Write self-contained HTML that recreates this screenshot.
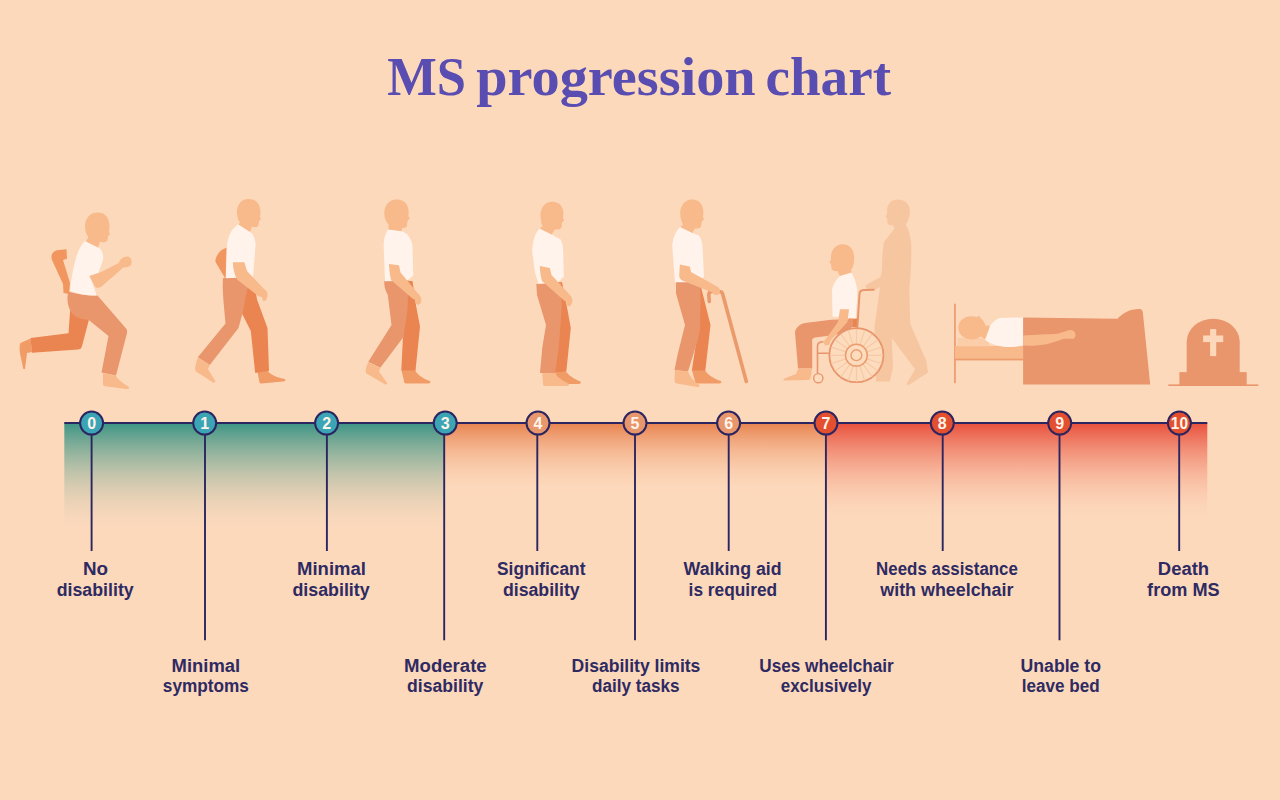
<!DOCTYPE html>
<html><head><meta charset="utf-8">
<style>
html,body{margin:0;padding:0;}
body{width:1280px;height:800px;background:#FDD9BC;overflow:hidden;position:relative;font-family:"Liberation Sans",sans-serif;}
svg{position:absolute;left:0;top:0;}
</style></head><body>
<svg id="main" width="1280" height="800" viewBox="0 0 1280 800">
<defs>
<linearGradient id="gG" x1="0" y1="0" x2="0" y2="1"><stop offset="0" stop-color="#3C9585"/><stop offset="1" stop-color="#FDD9BC" stop-opacity="0"/></linearGradient>
<linearGradient id="gO" x1="0" y1="0" x2="0" y2="1"><stop offset="0" stop-color="#E88350"/><stop offset="1" stop-color="#FDD9BC" stop-opacity="0"/></linearGradient>
<linearGradient id="gR" x1="0" y1="0" x2="0" y2="1"><stop offset="0" stop-color="#E8503C"/><stop offset="1" stop-color="#FDD9BC" stop-opacity="0"/></linearGradient>
</defs>
<g id="title" font-family="Liberation Serif, serif" font-weight="bold" font-size="54.5" fill="#594DB1">
<text x="387.2" y="95.4" textLength="78.8" lengthAdjust="spacingAndGlyphs">MS</text>
<text x="476.2" y="95.4" textLength="279.5" lengthAdjust="spacingAndGlyphs">progression</text>
<text x="765.5" y="95.4" textLength="125.5" lengthAdjust="spacingAndGlyphs">chart</text>
</g>
<!-- TIMELINE -->
<g id="timeline">
<rect x="64.3" y="423" width="380" height="114" fill="url(#gG)"/>
<rect x="444.3" y="423" width="381.7" height="74" fill="url(#gO)"/>
<rect x="826" y="423" width="381.3" height="102" fill="url(#gR)"/>
<rect x="64.3" y="422" width="1143" height="2" fill="#2B2560"/>
<g stroke="#2B2560" stroke-width="1.9">
<line x1="91.6" y1="423" x2="91.6" y2="551"/>
<line x1="205.0" y1="423" x2="205.0" y2="640.3"/>
<line x1="326.9" y1="423" x2="326.9" y2="551"/>
<line x1="444.2" y1="423" x2="444.2" y2="640.3"/>
<line x1="537.3" y1="423" x2="537.3" y2="551"/>
<line x1="635.0" y1="423" x2="635.0" y2="640.3"/>
<line x1="728.7" y1="423" x2="728.7" y2="551"/>
<line x1="825.9" y1="423" x2="825.9" y2="640.3"/>
<line x1="942.7" y1="423" x2="942.7" y2="551"/>
<line x1="1059.5" y1="423" x2="1059.5" y2="640.3"/>
<line x1="1179.2" y1="423" x2="1179.2" y2="551"/>
</g>
<g stroke="#2B2560" stroke-width="2">
<circle cx="91.6" cy="423.1" r="11.5" fill="#3BA5B5"/>
<circle cx="204.7" cy="423.1" r="11.5" fill="#3BA5B5"/>
<circle cx="326.6" cy="423.1" r="11.5" fill="#3BA5B5"/>
<circle cx="445.2" cy="423.1" r="11.5" fill="#3BA5B5"/>
<circle cx="538.0" cy="423.1" r="11.5" fill="#E8966C"/>
<circle cx="635.0" cy="423.1" r="11.5" fill="#E8966C"/>
<circle cx="728.6" cy="423.1" r="11.5" fill="#E8966C"/>
<circle cx="826.0" cy="423.1" r="11.5" fill="#E4502F"/>
<circle cx="942.3" cy="423.1" r="11.5" fill="#E4502F"/>
<circle cx="1059.7" cy="423.1" r="11.5" fill="#E4502F"/>
<circle cx="1179.4" cy="423.1" r="11.5" fill="#E4502F"/>
</g>
<g font-family="Liberation Sans, sans-serif" font-weight="bold" font-size="16" fill="#FFF4EA" text-anchor="middle">
<text x="91.6" y="428.9">0</text>
<text x="204.7" y="428.9">1</text>
<text x="326.6" y="428.9">2</text>
<text x="445.2" y="428.9">3</text>
<text x="538.0" y="428.9">4</text>
<text x="635.0" y="428.9">5</text>
<text x="728.6" y="428.9">6</text>
<text x="826.0" y="428.9">7</text>
<text x="942.3" y="428.9">8</text>
<text x="1059.7" y="428.9">9</text>
<text x="1170.8000000000002" y="428.9" text-anchor="start" textLength="17.2" lengthAdjust="spacingAndGlyphs">10</text>
</g>
</g>
<g id="labels" font-family="Liberation Sans, sans-serif" font-weight="bold" font-size="17.5" fill="#2E2A62">
<text x="83.00" y="575.3" textLength="25.10" lengthAdjust="spacingAndGlyphs">No</text>
<text x="56.70" y="595.6" textLength="77.00" lengthAdjust="spacingAndGlyphs">disability</text>
<text x="297.10" y="575.3" textLength="68.80" lengthAdjust="spacingAndGlyphs">Minimal</text>
<text x="292.40" y="595.6" textLength="77.30" lengthAdjust="spacingAndGlyphs">disability</text>
<text x="497.10" y="575.3" textLength="88.30" lengthAdjust="spacingAndGlyphs">Significant</text>
<text x="502.90" y="595.6" textLength="76.80" lengthAdjust="spacingAndGlyphs">disability</text>
<text x="683.60" y="575.3" textLength="98.05" lengthAdjust="spacingAndGlyphs">Walking aid</text>
<text x="688.60" y="595.6" textLength="88.55" lengthAdjust="spacingAndGlyphs">is required</text>
<text x="876.10" y="575.3" textLength="141.80" lengthAdjust="spacingAndGlyphs">Needs assistance</text>
<text x="880.30" y="595.6" textLength="133.10" lengthAdjust="spacingAndGlyphs">with wheelchair</text>
<text x="1157.85" y="575.3" textLength="51.30" lengthAdjust="spacingAndGlyphs">Death</text>
<text x="1147.10" y="595.6" textLength="72.55" lengthAdjust="spacingAndGlyphs">from MS</text>
<text x="171.60" y="672.0" textLength="68.55" lengthAdjust="spacingAndGlyphs">Minimal</text>
<text x="162.85" y="692.4" textLength="86.05" lengthAdjust="spacingAndGlyphs">symptoms</text>
<text x="404.10" y="672.0" textLength="82.55" lengthAdjust="spacingAndGlyphs">Moderate</text>
<text x="407.10" y="692.4" textLength="76.30" lengthAdjust="spacingAndGlyphs">disability</text>
<text x="571.60" y="672.0" textLength="128.80" lengthAdjust="spacingAndGlyphs">Disability limits</text>
<text x="592.10" y="692.4" textLength="87.55" lengthAdjust="spacingAndGlyphs">daily tasks</text>
<text x="759.30" y="672.0" textLength="134.50" lengthAdjust="spacingAndGlyphs">Uses wheelchair</text>
<text x="780.70" y="692.4" textLength="90.80" lengthAdjust="spacingAndGlyphs">exclusively</text>
<text x="1020.60" y="672.0" textLength="80.40" lengthAdjust="spacingAndGlyphs">Unable to</text>
<text x="1021.80" y="692.4" textLength="77.80" lengthAdjust="spacingAndGlyphs">leave bed</text>
</g>
<!-- FIGURES -->
<g id="figures">
<!-- ===== FIG 0: runner ===== -->
<g id="f0">
<path fill="#F0965E" d="M66.5 249.3 L57 250.3 C52 251.5 50.5 256 52 260 L63 284 L63.5 293 L69 294 L70 283 L63 260 L67 258.8 Z"/>
<path fill="#F19C66" d="M30.6 338.5 L20.5 343 C19 346 19.5 352 21 358 L23.3 369 L25 369 L27 353 L32 352 Z"/>
<path fill="#EA8450" d="M70.5 305 L80 305 L89 319.5 L82 346 C81.5 348.5 80 349.5 78 349.6 L32 352.8 L30.5 338 L68.5 333.3 Z"/>
<path fill="#E9966D" d="M68.5 291.5 C78 294.5 90 296 97.5 295.5 L126.5 329 C127.3 331 127.3 333 126.5 335 L116 375.5 L101.5 372.5 L108.5 336 L88.5 319.7 C80 320 72 316 69.5 309 C67 302 67 297 68.5 291.5 Z"/>
<path fill="#F8B98B" d="M103 373 L115.7 375.5 C118 380 124 384 129 387 C129.5 388.5 128 389.2 126 389 L105 386.2 C103 385.7 102.5 384 103 383 Z"/>
<path fill="#F8B98B" d="M97.5 212.5 C90 212.5 85 218.5 85 226 C85 231 86.5 235 88.5 237.5 L85.5 241.5 L97.5 248.5 L100 241.8 C103 242.8 106.5 242.3 107.5 240.3 L108 236 L110 234.5 L109 231.5 C110.5 226 110 212.5 97.5 212.5 Z"/>
<path fill="#FFF3EB" d="M85 241 L100 248.5 C103 252 103.6 256 103 260 L98 274 L90 276.5 L93 284 L96.5 295.5 C88 296 78 294 70 291 C71 280 73 268 76 258 C78 251 81 245 85 241 Z"/>
<path fill="#F8B98B" d="M89.3 276 L101.2 272 L118.7 263 C120 259 124 256 128 256.5 C131.5 257.5 132.5 262 131 265 C129.5 267 126 267.6 123 267.6 L121.4 269.2 L101.2 286.7 C99 288.3 96 288.3 94.5 286 Z"/>
</g>
<!-- ===== FIG 1 ===== -->
<g id="f1">
<path fill="#F0965E" d="M227 247.5 L221.5 250 C217 254 215 259 215.5 262 L225 278 L227 278 Z"/>
<path fill="#F19C66" d="M257.5 372.3 L267.5 370.6 C270 375 278 378 285 379 C286 380.5 285 381.5 283 381.6 L261.5 383.6 C260 383.6 259.3 382.6 259.2 381 Z"/>
<path fill="#EA8450" d="M244 281 L254 281 L257 299.5 L267.5 328 L269 370.8 L255.2 373 L250.8 331 L241.5 312.5 Z"/>
<path fill="#E9966D" d="M223 278 L253 276.8 L251 286.5 L247.3 289 L242.8 312.3 L238.5 328 L209.8 365 L197.8 357.3 L225.5 323.5 C224 305 222 290 223 278 Z"/>
<path fill="#F8B98B" d="M197.8 357.5 L209.8 365 L208 369 L215.5 381.5 L213.5 382.7 L196 371.5 C194.5 369.5 195 366 197.8 357.5 Z"/>
<path fill="#F8B98B" d="M248.5 198.9 C241 198.9 237 205 237 212 C237 217 238.5 220.5 240 222.5 L238 225 L250 232 L252 226.7 C255 227.7 258 227.2 258.5 225.2 L259 221 L261 219.5 L260 217 C261.5 210 260 198.9 248.5 198.9 Z"/>
<path fill="#FFF3EB" d="M238 224.3 L249.5 231.8 L252 233.5 C254.5 237 255.5 241 255.5 245 L253 277 L225.7 278.3 L226.5 250 C227 241 229 234 233 229 Z"/>
<path fill="#F8B98B" d="M232.8 262.3 L244.3 262.3 L247 271 L263.5 288.5 C266.5 290 268 293 267.5 296 L266 300.5 L263 301 L262 297 L259 296.5 L237 279.5 C234.5 275 233 268 232.8 262.3 Z"/>
</g>
<!-- ===== FIG 2 ===== -->
<g id="f2">
<path fill="#F19C66" d="M401.5 370.5 L415.3 370.5 C417.5 375 424 379 430 381 C431 382.5 430 383.5 428 383.5 L406 383.5 C404.5 383.5 404 382.5 404 381 Z"/>
<path fill="#EA8450" d="M403 281 L412.5 281 L416.3 307 L420 326.5 L415.5 370.8 L401.3 370.8 L402.8 340 L406 305 Z"/>
<path fill="#E9966D" d="M384.3 281 L409 280.5 L409.5 290 L408 296 L407.5 310 L403.5 337 L380.3 367.8 L368.3 361.8 L391.5 325 L387.8 295 C385 290 384 285 384.3 281 Z"/>
<path fill="#F8B98B" d="M368.3 362 L380.3 368 L379 371.5 L387.5 383.5 L385.5 384.8 L366.5 373.5 C365 371.5 365.5 368 368.3 362 Z"/>
<path fill="#F8B98B" d="M396.5 199.6 C389 199.6 384.3 206 384.3 213 C384.3 218 386 222 388.5 224.5 L388.5 230 L401.5 231.8 L402 227.7 C404 228.2 406.5 227.7 407 225.7 L407.5 221 L409.8 218.5 L408.4 216 C409.5 209 407.5 199.6 396.5 199.6 Z"/>
<path fill="#FFF3EB" d="M388 229.5 L402 231.3 L407 234 C410.5 238 412.5 243 412.5 247 L413.2 275.5 L407 280.8 L385 281.3 L383.6 245 C384 238 385.5 233 388 229.5 Z"/>
<path fill="#F8B98B" d="M389 264 L399 265.3 L400.5 272.5 L418 293.5 C421 296 422 299.5 421 302.5 L418.5 305 L415.5 303.5 L415 300 L411.8 298 L391 280 C389.8 275 389.2 269 389 264 Z"/>
</g>
<!-- ===== FIG 3 ===== -->
<g id="f3">
<path fill="#F19C66" d="M555 372.5 L566 371.5 C568 375 575 379.5 580.5 381.5 C581.5 383 580.5 384 578.5 384 L560 384 Z"/>
<path fill="#EA8450" d="M553 283 L562 282 L567.8 311.5 L570.8 328 L566.3 371.5 L552 373 L555 347.5 L558 307 Z"/>
<path fill="#E9966D" d="M536.3 284 L561 282.3 L561.8 307 L558.8 347.5 L555 373 L540 373 L542.3 347.5 L546 325 L537 295 Z"/>
<path fill="#F8B98B" d="M542.3 373 L555 373 C557 377 563 381 568.5 383.5 C569.5 385 568.5 386 566.5 386 L545 386 C543.5 386 543 385 543 383.5 Z"/>
<path fill="#F8B98B" d="M552 201.7 C545 201.7 540.5 208 540.5 215 C540.5 220 541.5 224 542.5 226 L539.5 229 L551.5 234.8 L555 229.2 C558 229.7 561 229.2 561.5 227.2 L562 222.5 L564.2 220.5 L563 218 C564.5 211 562.5 201.7 552 201.7 Z"/>
<path fill="#FFF3EB" d="M539.5 228.5 L551.5 234.5 L560.5 239.5 C562.5 243 563.2 248 563.2 252 L563.9 276.7 L557 282.7 L538.5 283.8 L535 272.5 L532.3 252 C532.3 242 535 233 539.5 228.5 Z"/>
<path fill="#F8B98B" d="M539.8 266 L549.8 268 L551.5 275 L569 294 C572 296.5 573 300 572 303 L570 306.5 L567 305.5 L566.5 302 L563.5 300 L542 281 C540.5 276 540 271 539.8 266 Z"/>
</g>
<!-- ===== FIG 4: cane ===== -->
<g id="f4">
<path fill="none" stroke="#EB9A6B" stroke-width="3.6" stroke-linecap="round" stroke-linejoin="round" d="M709.3 301.5 L708.8 295 C708.8 292.5 710 291.5 712 291.5 L719 291.5 C721 291.5 722 292 722.5 293.5 L746.3 381.5"/>
<path fill="#F19C66" d="M692 370.5 L705.3 370.5 C707.5 375 715 379 721 381 C722 382.5 721 383.5 719 383.5 L697 383.5 C695.5 383.5 695 382.5 695 381 Z"/>
<path fill="#EA8450" d="M694 283 L700 283 L706.8 310 L710.5 325 L705.3 370.8 L691.8 370.8 L696.5 340 L696 329.5 Z"/>
<path fill="#E9966D" d="M676 282 L700 281.5 L700.5 300 L700 329.5 L697.8 340 L688 371.5 L674.5 370 L677.5 355 L685 325 L676 293.5 Z"/>
<path fill="#F8B98B" d="M675 370 L688 371.5 C690 377 695 382 699.5 385 C700 386.5 699 387.2 697 387 L677 383.5 C675 383 674.5 382 674.5 380 Z"/>
<path fill="#F8B98B" d="M692 199.6 C685 199.6 680.2 206 680.2 213 C680.2 218 681.5 222 683 224.5 L680 227.5 L692.3 233.2 L695 228.2 C698 228.7 700.5 228.2 701 226.2 L701.8 221.5 L704 219.5 L703 217 C704.5 210 702.5 199.6 692 199.6 Z"/>
<path fill="#FFF3EB" d="M680 227 L692.3 233 L699.1 235.5 C701.5 239 702.6 244 702.6 248 L704 276.7 L697 282.2 L675 282.2 L672.3 247 C672.5 239 675 232 680 227 Z"/>
<path fill="#F8B98B" d="M679.9 264.5 L689.8 266.5 L691 272 L716 286 C719 287 720.5 289.5 720 292 L718 295 L714.5 295 L712.5 292.5 L686 282 C682 281 679.5 279 679.2 276 Z"/>
</g>
<!-- ===== FIG 5: wheelchair + helper ===== -->
<g id="f5">
<path fill="#F6C6A1" d="M897.5 199.6 C890.5 199.6 887 205 887 211 L886.8 214 L885.5 216.5 L887 218.5 L887.5 223 C888 225 890.5 225.7 893 225.2 L894.5 228.5 L884 242 C882.5 250 882 262 881.7 272.5 L880.5 277 L870 282.5 L865.5 285.5 L866 288.5 L874.5 290.3 L880 287 L876.8 310.7 L874.4 327 L876 381.4 L889.8 381.4 L893 367.6 L891.8 338 L915 369.2 L906.5 384 L908.5 385.2 L928 372.4 L926.4 361 L910.2 323.7 L909.3 289 C911 275 911.5 258 911.3 245 C911 238 909 230 905.8 224.4 C909 220 910 215 909.9 211 C909.9 204 905 199.6 897.5 199.6 Z"/>
<!-- seated leg/seat -->
<path fill="#EA8450" d="M849 318.5 L857 318.5 L857 327 L849 327 Z"/>
<path fill="#E9966D" d="M853 319 L831 319.7 L805 323 C799.5 324 795.5 328 795 332.5 L798 368.5 L812.2 368.5 L812.2 340 C812.2 338.5 813 338 815 337.5 L831 335.5 L845 333 L853 326 Z"/>
<path fill="#F8B98B" d="M798.5 368.5 L812 368.5 L811 376 C810.5 379 809.5 380 808 380 L785 380.6 C783 380.6 783 379 784.5 378.5 L796 374 Z"/>
<!-- wheel -->
<g id="wheel">
<circle cx="856.4" cy="355.2" r="27" fill="#FDDCBE" stroke="#E8956B" stroke-width="1.8"/>
<g stroke="#F6CAA6" stroke-width="1.3" id="spokes"><line x1="856.5" y1="365.7" x2="856.5" y2="381.9"/><line x1="853.3" y1="365.2" x2="848.3" y2="380.6"/><line x1="850.4" y1="363.7" x2="840.9" y2="376.8"/><line x1="848.2" y1="361.5" x2="835.1" y2="371.0"/><line x1="846.7" y1="358.6" x2="831.3" y2="363.6"/><line x1="846.2" y1="355.4" x2="830.0" y2="355.4"/><line x1="846.7" y1="352.2" x2="831.3" y2="347.2"/><line x1="848.2" y1="349.3" x2="835.1" y2="339.8"/><line x1="850.4" y1="347.1" x2="840.9" y2="334.0"/><line x1="853.3" y1="345.6" x2="848.3" y2="330.2"/><line x1="856.5" y1="345.1" x2="856.5" y2="328.9"/><line x1="859.7" y1="345.6" x2="864.7" y2="330.2"/><line x1="862.6" y1="347.1" x2="872.1" y2="334.0"/><line x1="864.8" y1="349.3" x2="877.9" y2="339.8"/><line x1="866.3" y1="352.2" x2="881.7" y2="347.2"/><line x1="866.8" y1="355.4" x2="883.0" y2="355.4"/><line x1="866.3" y1="358.6" x2="881.7" y2="363.6"/><line x1="864.8" y1="361.5" x2="877.9" y2="371.0"/><line x1="862.6" y1="363.7" x2="872.1" y2="376.8"/><line x1="859.7" y1="365.2" x2="864.7" y2="380.6"/></g>
<circle cx="856.4" cy="355.2" r="10.9" fill="#FDDCBE" stroke="#EA9D6F" stroke-width="1.5"/>
<circle cx="856.4" cy="355.2" r="5.4" fill="#FDDCBE" stroke="#EA9D6F" stroke-width="1.4"/>
</g>
<circle cx="818.3" cy="378.2" r="4.6" fill="#FDDCBE" stroke="#E8956B" stroke-width="1.4"/>
<path fill="none" stroke="#E8956B" stroke-width="1.6" d="M823.5 341.7 C820 341.7 817.5 343 817.5 346 L817.5 373.5 M817.5 353.2 L829 353.2"/>
<path fill="none" stroke="#E8956B" stroke-width="2" stroke-linecap="round" d="M873.7 289.8 L864 289.9 C861 290 859.6 291.5 859.5 294 L857.3 328"/>
<!-- seated torso -->
<path fill="#F8B98B" d="M842.5 244.3 C835.5 244.3 831 250 831 257 L831 259.5 L829.5 262 L831 264 L831.5 268.5 C832 270.5 834.5 271.5 837.5 271 L840 276.3 L852 272.8 L851 270 C853 267.5 854.2 263 854.2 258 C854.2 250 850 244.3 842.5 244.3 Z"/>
<path fill="#FFF3EB" d="M851.5 272.5 L840 276 C836 280 833 284 832 290 L832.5 316.5 L855.7 318.5 L857 300 C858 292 857 282 851.5 272.5 Z"/>
<path fill="#F8B98B" d="M840 309.2 L849 309.2 L847.5 322 L831 340 L829 345 L825 345.5 L823.5 342 L826.5 338 L838 322 Z"/>
</g>
<!-- ===== FIG 6: bed ===== -->
<g id="f6">
<rect x="954.1" y="303.7" width="1.7" height="79.5" fill="#EB9B6C"/>
<rect x="955" y="346" width="68.5" height="14" fill="#F8B98B"/>
<rect x="955" y="358.7" width="68.5" height="1.7" fill="#EB9B6C"/>
<path fill="#FBCDA8" d="M957.5 338 L986 338 L990 346.3 L957.5 346.3 Z"/>
<path fill="#F8B98B" d="M958.3 327.8 C958.3 321 964 316.2 971.5 316.2 C973.5 316.2 975 316.5 976.5 317 L979.5 315.8 L980.8 318.5 C983.5 320.5 985 323 985.3 325.5 L991 326 L986.5 339.5 L980.5 336.5 C978 338.5 975 339.4 971.9 339.4 C964 339.4 958.3 334.5 958.3 327.8 Z"/>
<path fill="#FFF3EB" d="M990 326 C993 322 996 319 1000 318 L1023.5 317.5 L1024.5 345 C1018 347 1010 347.3 1005 347 C997 346 990 343.5 985 340 Z"/>
<path fill="#E9966D" d="M1023.1 317.5 L1117.4 318.8 C1122 314 1128 310.5 1132.2 309.8 C1136 309 1139 308.8 1140.4 309 C1142 309.5 1142.7 311 1142.9 313 L1150.2 384.4 L1023.1 384.4 Z"/>
<path fill="#F8B98B" d="M1023.1 335.5 C1035 334.5 1048 334.5 1057.5 333.75 L1068 330.5 C1071 329.5 1074 330.5 1075 332.5 C1076 335 1075.5 337.5 1073.75 338.75 L1063.75 338.75 C1058 341 1050 343.5 1045 344.4 C1038 345.5 1030 346 1023.1 345.6 Z"/>
</g>
<!-- ===== FIG 7: tombstone ===== -->
<g id="f7">
<path fill="#E9966D" d="M1186.7 373 L1186.7 341.8 A26.5 23 0 0 1 1239.7 341.8 L1239.7 373 Z"/>
<rect x="1179.4" y="372.1" width="67.3" height="13" fill="#E9966D"/>
<rect x="1168.3" y="384.4" width="90" height="1.6" fill="#E9966D"/>
<rect x="1210.1" y="329.1" width="6.1" height="27" fill="#FCD7B9"/>
<rect x="1203.1" y="335.5" width="20.1" height="6.6" fill="#FCD7B9"/>
</g>
</g>

</svg>
</body></html>
